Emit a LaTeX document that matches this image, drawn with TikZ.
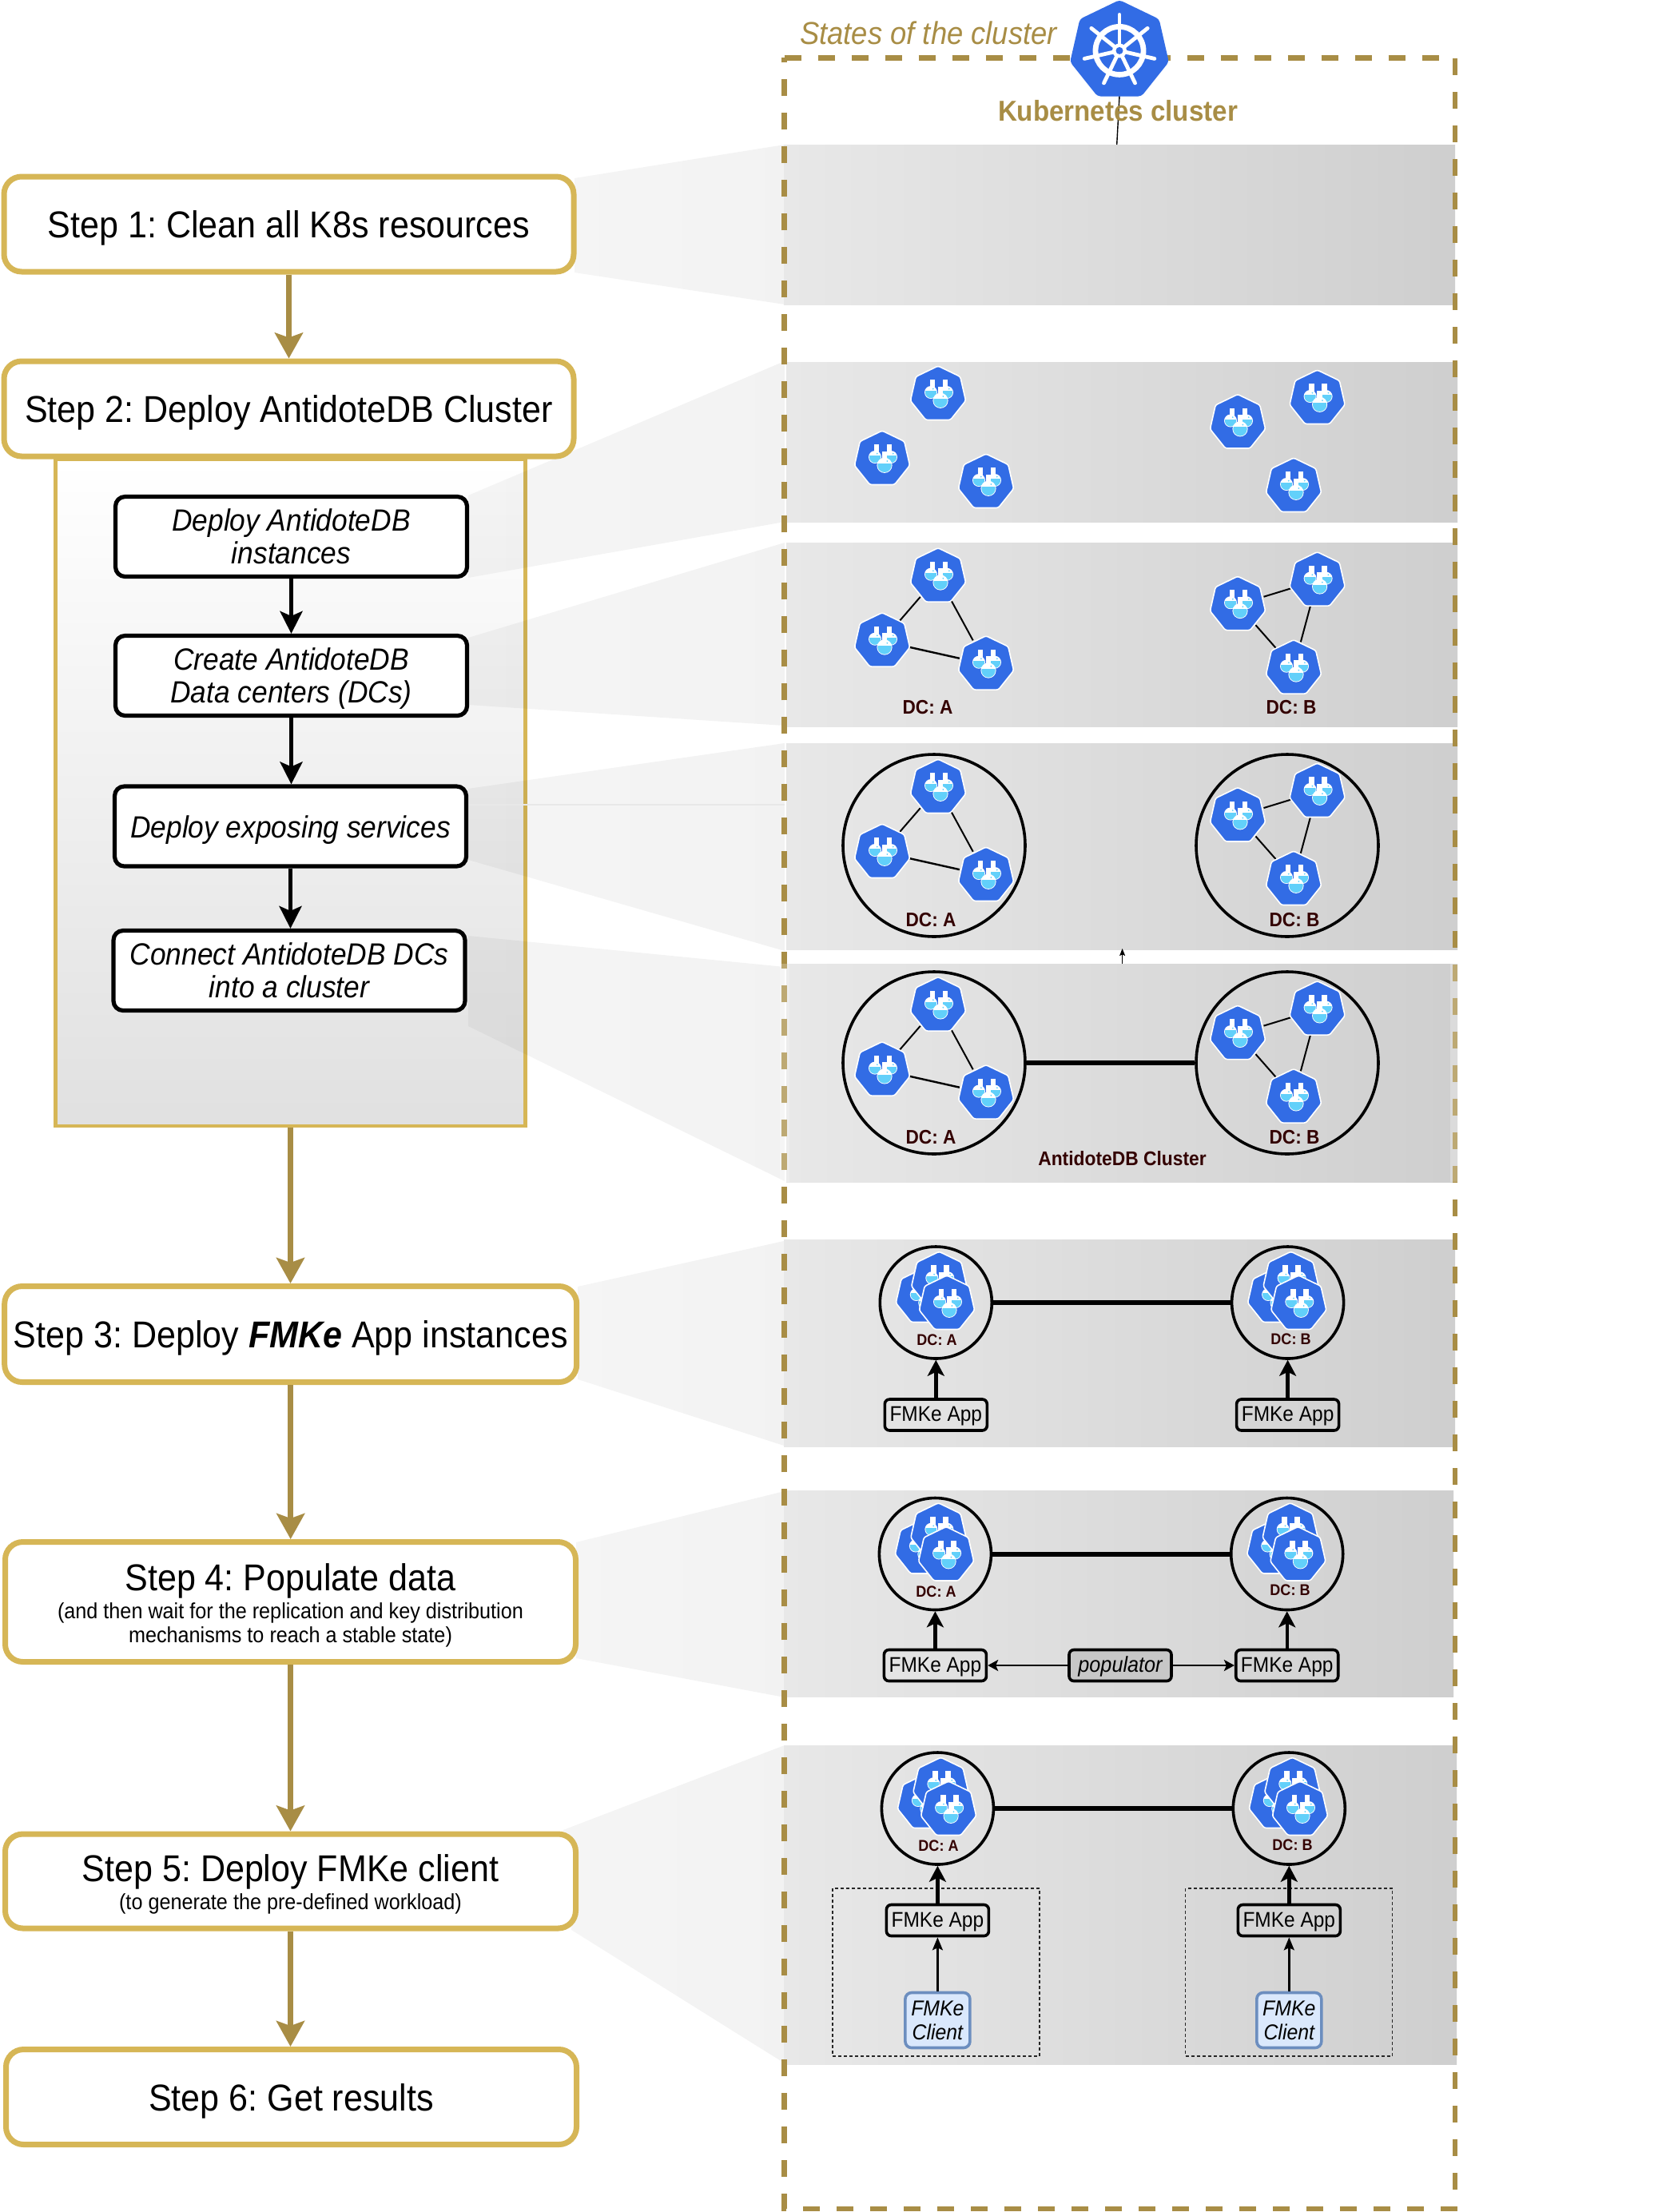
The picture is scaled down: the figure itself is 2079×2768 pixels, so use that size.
\documentclass[tikz,border=0pt]{standalone}
\usepackage{fontspec}
\setmainfont[FakeStretch=0.92]{Liberation Sans}
\usetikzlibrary{arrows.meta,shadings,fadings,positioning}
\frenchspacing
\definecolor{gold}{HTML}{A88D45}
\definecolor{goldbox}{HTML}{D6B656}
\definecolor{kblue}{HTML}{326CE5}
\definecolor{lblue}{HTML}{62D0FA}
\definecolor{dctext}{HTML}{330000}
\definecolor{clientfill}{HTML}{DAE8FC}
\definecolor{clientline}{HTML}{6C8EBF}
\pgfdeclarehorizontalshading{bandshade}{100bp}{color(0bp)=(black!9); color(25bp)=(black!9); color(75bp)=(black!19); color(100bp)=(black!19)}
\pgfdeclareverticalshading{panelshade}{100bp}{color(0bp)=(black!12); color(25bp)=(black!12); color(75bp)=(white); color(100bp)=(white)}
\tikzfading[name=funnelfade, left color=transparent!96, right color=transparent!95]
\newcommand\fs[1]{\pgfmathsetmacro\fsb{#1*1.2}\fontsize{#1}{\fsb}\selectfont}
% bulb x, bulb y, bulb radius, neck x, neck top y
\newcommand\flaskglyph[5]{%
  \fill[white] ({#4-3.4},#5) rectangle ({#4+3.4},#2);
  \fill[white] (#1,#2) circle[radius=#3];
  \begin{scope}
    \clip (#1,#2) circle[radius={#3-0.9}];
    \fill[lblue] ({#1-#3},{#2-0.25*#3}) rectangle ({#1+#3},{#2+#3});
  \end{scope}
  \fill[lblue] ({#1+0.35*#3},{#2-0.55*#3}) circle[radius=1];
}
\tikzset{
  antidote/.pic={
    \fill[kblue,draw=white,line width=.8pt,rounded corners=1.2pt]
      (-90:35.5) -- (-38.57:35.5) -- (12.86:35.5) -- (64.29:35.5) -- (115.71:35.5) -- (167.14:35.5) -- (218.57:35.5) -- cycle;
    \flaskglyph{-9}{-2.5}{8}{-7}{-18.5}
    \flaskglyph{11}{-2.5}{8}{9}{-18.5}
    \flaskglyph{3}{7.8}{9.6}{3}{-9.8}
  },
  wheel/.pic={
    \fill[kblue,rounded corners=2pt]
      (-90:63.4) -- (-38.57:63.4) -- (12.86:63.4) -- (64.29:63.4) -- (115.71:63.4) -- (167.14:63.4) -- (218.57:63.4) -- cycle;
    \draw[white,line width=3.4pt] (0,0) circle[radius=30];
    \foreach \a in {-90,-38.57,12.86,64.29,115.71,167.14,218.57}{
      \draw[white,line width=2.4pt,line cap=round] (\a:6) -- (\a:45);
    }
    \fill[white] (0,0) circle[radius=9];
    \fill[kblue] (0,0) circle[radius=4.5];
  },
  sz/.style 2 args={minimum width={#1*0.5pt},minimum height={#2*0.5pt}},
  stepbox/.style={draw=goldbox,line width=3.5pt,rounded corners=11pt,fill=white,align=center,inner sep=0pt,font=\fs{23.4}},
  oneline/.style={text height=17pt,text depth=0pt},
  subbox/.style={draw=black,line width=2.6pt,rounded corners=6pt,fill=white,align=center,inner sep=0pt,font=\fontsize{19.2}{20.6}\selectfont\itshape},
  appbox/.style={draw=black,line width=1.8pt,rounded corners=3pt,inner sep=0pt,font=\fs{13.3},sz={128}{39},text height=10pt,text depth=2pt},
  popbox/.style={appbox,fill=black!22,font=\fs{13.7}\itshape},
  clientbox/.style={draw=clientline,fill=clientfill,line width=1.8pt,rounded corners=4pt,inner sep=0pt,align=center,font=\fontsize{13.5}{15}\selectfont\itshape,sz={81}{69}},
  gotoarrow/.style={draw=gold,line width=3.5pt,-{Stealth[length=16pt,width=17.5pt,inset=3pt]}},
  subarrow/.style={draw=black,line width=2.5pt,-{Stealth[length=14pt,width=14pt,inset=3pt]}},
  apparrow/.style={draw=black,line width=2.2pt,-{Stealth[length=10pt,width=10.5pt,inset=2.5pt]}},
  clientarrow/.style={draw=black,line width=1.2pt,-{Stealth[length=8pt,width=6.5pt,inset=1.5pt]}},
  poparrow/.style={draw=black,line width=1.4pt,-{Stealth[length=6.5pt,width=7pt,inset=1.5pt]}},
  dbspot/.style={circle,inner sep=0pt,outer sep=0pt,minimum size=34pt},
  dcring/.style={circle,draw=black,line width=1.8pt,inner sep=0pt},
  dclink/.style={draw=black,line width=1pt},
  clusterlink/.style={draw=black,line width=3pt},
  dclabel/.style={text=dctext,font=\fs{12.3}\bfseries,inner sep=0pt},
  dcsmall/.style={text=dctext,font=\fs{9.8}\bfseries,inner sep=0pt},
  funnel/.style={path fading=funnelfade,fit fading=true,fill=black},
  band/.style={shading=bandshade,draw=none},
  groupbox/.style={draw=black!85,line width=.6pt,dash pattern=on 2pt off 1.5pt,sz={259}{210}},
}
% one group of six instances; the last argument is the vertical offset
\newcommand\sixspots[2]{%
  \node[dbspot] (#1a1) at (1174,493.5+#2) {};
  \node[dbspot] (#1a2) at (1104,574.5+#2) {};
  \node[dbspot] (#1a3) at (1234,603.5+#2) {};
  \node[dbspot] (#1b1) at (1549,529+#2) {};
  \node[dbspot] (#1b2) at (1648.6,498.5+#2) {};
  \node[dbspot] (#1b3) at (1619,608.5+#2) {};
}
\newcommand\sixicons[1]{%
  \foreach \n in {a1,a2,a3,b1,b2,b3}{ \pic at (#1\n) {antidote}; }
}
\newcommand\sixlinks[1]{%
  \draw[dclink] (#1a2) -- (#1a1);
  \draw[dclink] (#1a1) -- (#1a3);
  \draw[dclink,line width=1.2pt] (#1a2) -- (#1a3);
  \draw[dclink] (#1b1) -- (#1b2);
  \draw[dclink] (#1b2) -- (#1b3);
  \draw[dclink] (#1b1) -- (#1b3);
}
% small data centre: name, x, y, label, label x, label y
\newcommand\smalldc[6]{%
  \node[dcring,sz={140}{140}] (#1) at (#2,#3) {};
  \pic at ({#2-15.5},{#3-7.5}) {antidote};
  \pic at ({#2+4},{#3-28.3}) {antidote};
  \pic at ({#2+13.7},{#3+1.5}) {antidote};
  \node[dcsmall] (#1t) at (#5,#6) {#4};
}
\begin{document}
\begin{tikzpicture}[x=0.5pt,y=-0.5pt]
\useasboundingbox (0,0) rectangle (2079,2768);
\fill[white] (0,0) rectangle (2079,2768);

% panel under step 2
\node[draw=goldbox,line width=2.3pt,shading=panelshade,shade,sz={588}{834},inner sep=0pt] (panel) at (363.5,992) {};

% funnels
\fill[funnel] (719,223) -- (982,181) -- (982,381) -- (719,341) -- cycle;
\fill[funnel] (586,620) -- (982,452) -- (982,653) -- (586,723) -- cycle;
\fill[funnel] (586,798) -- (982,679) -- (982,908) -- (586,882) -- cycle;
\fill[funnel] (586,987) -- (982,930) -- (982,1190) -- (586,1076) -- cycle;
\fill[funnel] (586,1171) -- (982,1210) -- (982,1478) -- (586,1284) -- cycle;
\fill[funnel] (723,1610) -- (981,1553) -- (981,1809) -- (723,1726) -- cycle;
\fill[funnel] (721,1930) -- (982,1866) -- (982,2124) -- (721,2075) -- cycle;
\fill[funnel] (705,2290) -- (982,2184) -- (982,2582) -- (715,2415) -- cycle;
\coordinate (fa) at (586,1007);
\coordinate (fb) at (982,1007);
\draw[black!9,line width=.8pt] (fa) -- (fb);

% bands
\shade[band] (981,181) rectangle (1821,381);
\shade[band] (984,453) rectangle (1824,653);
\shade[band] (984,679) rectangle (1824,909);
\shade[band] (984,930) rectangle (1824,1188);
\shade[band] (984,1206) rectangle (1824,1479);
\shade[band] (981,1551) rectangle (1821,1810);
\shade[band] (981,1865) rectangle (1819,2123);
\shade[band] (981,2184) rectangle (1823,2583);

% cluster frame
\draw[gold,line width=3.25pt,dash pattern=on 10.5pt off 10.5pt] (981.6,72.4) -- (1821,72.4) -- (1821,2764) -- (981.6,2764) -- cycle;
\fill[white,opacity=.25] (976,1206) rectangle (988,1479);
\fill[white,opacity=.25] (1815,1206) rectangle (1827,1479);

% kubernetes header
\node[circle,inner sep=0pt,minimum size=56pt] (k8s) at (1401,63.4) {};
\coordinate (k8sfoot) at (1397.7,181);
\draw[black,line width=.7pt] (k8s.south) -- (k8sfoot);
\pic at (k8s) {wheel};
\node[text=gold,font=\fs{19.8}\itshape,inner sep=0pt] (states) at (1162,41) {States of the cluster};
\node[text=gold,font=\fs{18}\bfseries,inner sep=0pt] (kc) at (1399,139) {Kubernetes cluster};

% left column
\node[stepbox,oneline,sz={713}{119}] (s1) at (361.5,280.5) {Step 1: Clean all K8s resources};
\node[stepbox,oneline,sz={713}{119}] (s2) at (361.5,511.5) {Step 2: Deploy AntidoteDB Cluster};
\node[stepbox,oneline,sz={716}{120}] (s3) at (363.7,1669.5) {Step 3: Deploy \textbf{\textit{FMKe}} App instances};
\node[stepbox,sz={714}{150}] (s4) at (363.5,2004.5) {\rule{0pt}{21.5pt}Step 4: Populate data\\[-10.7pt]{\fs{13.7}(and then wait for the replication and key distribution}\\[-13.2pt]{\fs{13.7}mechanisms to reach a stable state)}};
\node[stepbox,sz={714}{118}] (s5) at (363.5,2354) {\rule{0pt}{20.6pt}Step 5: Deploy FMKe client\\[-10.7pt]{\fs{13.7}(to generate the pre-defined workload)}};
\node[stepbox,oneline,sz={714}{119}] (s6) at (364.5,2624) {Step 6: Get results};

\node[subbox,sz={440}{100}] (d1) at (364.5,671.5) {Deploy AntidoteDB\\instances};
\node[subbox,sz={440}{100}] (d2) at (364.5,845.5) {Create AntidoteDB\\Data centers \smash{(DCs)}};
\node[subbox,sz={440}{100},text height=14pt,text depth=0pt] (d3) at (363.5,1034) {Deploy exposing services};
\node[subbox,sz={440}{100}] (d4) at (362,1214.5) {Connect AntidoteDB DCs\\into a cluster};

\draw[gotoarrow] (s1.south) -- (s2.north);
\draw[gotoarrow] (panel.south) -- (panel.south|-s3.north);
\draw[gotoarrow] (s3.south) -- (s3.south|-s4.north);
\draw[gotoarrow] (s4.south) -- (s5.north);
\draw[gotoarrow] (s5.south) -- (s5.south|-s6.north);
\draw[subarrow] (d1.south) -- (d2.north);
\draw[subarrow] (d2.south) -- (d2.south|-d3.north);
\draw[subarrow] (d3.south) -- (d3.south|-d4.north);

% band 2: bare instances
\sixspots{p}{0}
\sixicons{p}

% band 3: data centres formed
\sixspots{q}{227.7}
\sixlinks{q}
\sixicons{q}
\node[dclabel] (qla) at (1161,885) {DC: A};
\node[dclabel] (qlb) at (1616,885) {DC: B};

% band 4: exposed
\sixspots{r}{492}
\sixlinks{r}
\sixicons{r}
\node[dcring,sz={228}{228}] (ra) at (1169,1058) {};
\node[dcring,sz={228}{228}] (rb) at (1611,1058) {};
\node[dclabel] (rla) at (1165,1151) {DC: A};
\node[dclabel] (rlb) at (1620,1151) {DC: B};

% little arrow between bands
\coordinate (ua) at (1404.6,1206);
\coordinate (ub) at (1404.6,1187);
\draw[black,line width=.6pt,-{Stealth[length=4.5pt,width=3.5pt,inset=.8pt]}] (ua) -- (ub);

% band 5: cluster
\sixspots{t}{764.6}
\sixlinks{t}
\sixicons{t}
\node[dcring,sz={228}{228}] (ta) at (1169,1330) {};
\node[dcring,sz={228}{228}] (tb) at (1611,1330) {};
\draw[clusterlink] (ta) -- (tb);
\node[dclabel] (tla) at (1165,1423) {DC: A};
\node[dclabel] (tlb) at (1620,1423) {DC: B};
\node[dclabel,font=\fs{12.4}\bfseries] (tcl) at (1404.5,1450) {AntidoteDB Cluster};

% band 6: FMKe apps
\smalldc{ua6}{1171.3}{1630}{DC: A}{1172.5}{1677}
\smalldc{ub6}{1611.6}{1630}{DC: B}{1615.5}{1676}
\draw[clusterlink] (ua6) -- (ub6);
\node[appbox] (aa6) at (1171.3,1770.5) {FMKe App};
\node[appbox] (ab6) at (1611.6,1770.5) {FMKe App};
\draw[apparrow] (aa6.north) -- (ua6.south);
\draw[apparrow] (ab6.north) -- (ub6.south);

% band 7: populate
\smalldc{ua7}{1170.4}{1944.5}{DC: A}{1171.5}{1991.5}
\smalldc{ub7}{1610.7}{1944.5}{DC: B}{1614.5}{1990}
\draw[clusterlink] (ua7) -- (ub7);
\node[appbox] (aa7) at (1170.4,2084) {FMKe App};
\node[appbox] (ab7) at (1610.7,2084) {FMKe App};
\node[popbox] (pop) at (1402,2084) {populator};
\draw[apparrow] (aa7.north) -- (ua7.south);
\draw[apparrow] (ab7.north) -- (ub7.south);
\draw[poparrow] (pop.west) -- (aa7.east);
\draw[poparrow] (pop.east) -- (ab7.west);

% band 8: clients
\node[groupbox] (ga) at (1171.5,2468) {};
\node[groupbox] (gb) at (1613,2468) {};
\smalldc{ua8}{1173.4}{2263}{DC: A}{1174.5}{2310}
\smalldc{ub8}{1613.3}{2263}{DC: B}{1617.5}{2308.5}
\draw[clusterlink] (ua8) -- (ub8);
\node[appbox] (aa8) at (1173.4,2403) {FMKe App};
\node[appbox] (ab8) at (1613.3,2403) {FMKe App};
\node[clientbox] (ca) at (1173.4,2528) {FMKe\\Client};
\node[clientbox] (cb) at (1613.3,2528) {FMKe\\Client};
\draw[apparrow] (aa8.north) -- (ua8.south);
\draw[apparrow] (ab8.north) -- (ub8.south);
\draw[clientarrow] (ca.north) -- (aa8.south);
\draw[clientarrow] (cb.north) -- (ab8.south);
\end{tikzpicture}
\end{document}
